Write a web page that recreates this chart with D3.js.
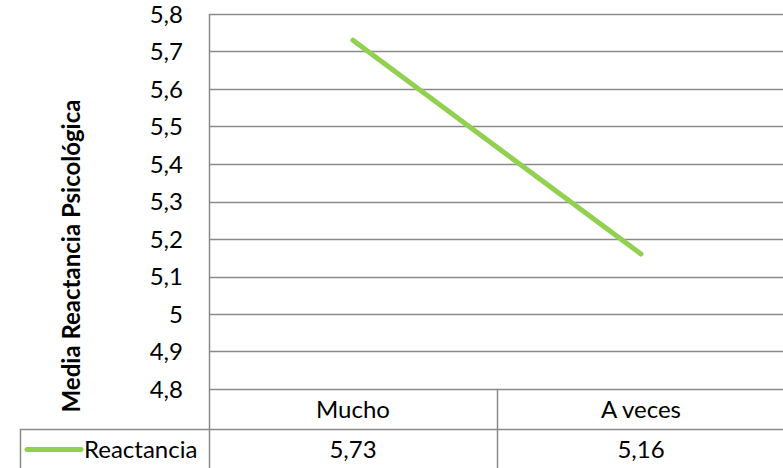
<!DOCTYPE html>
<html>
<head>
<meta charset="utf-8">
<script src="https://cdn.jsdelivr.net/npm/d3@7"></script>
<style>
  html, body { margin: 0; padding: 0; background: #fff; }
  svg { display: block; }
</style>
</head>
<body>
<div id="chart"></div>
<script>
'use strict'

// data
const categories = ["Mucho", "A veces"];
const seriesName = "Reactancia";
const values = [5.73, 5.16];
const valueLabels = ["5,73", "5,16"];
const yTicks = [4.8, 4.9, 5.0, 5.1, 5.2, 5.3, 5.4, 5.5, 5.6, 5.7, 5.8];

const svgWidth = 783, svgHeight = 468;
const font_family = 'Lato, "Open Sans", sans-serif';
const gridColor = '#8a8a8a';
const lineColor = '#92D050';
const fontSize = '24px';

const plot = { left: 209, right: 785, top: 14, bottom: 389 };
const rowH = 40; // table row height

const svg = d3.select('#chart')
    .append('svg')
    .attr('width', svgWidth)
    .attr('height', svgHeight);

// scales
const x = d3.scaleBand().domain(categories).range([plot.left, plot.right]);
const y = d3.scaleLinear().domain([4.8, 5.8]).range([plot.bottom, plot.top]);

// gridlines
svg.append('g')
    .selectAll('line')
    .data(yTicks)
    .join('line')
    .attr('x1', plot.left)
    .attr('x2', plot.right)
    .attr('y1', d => Math.round(y(d)) + 0.5)
    .attr('y2', d => Math.round(y(d)) + 0.5)
    .attr('stroke', gridColor)
    .attr('stroke-width', 1.5);

// tick labels
svg.append('g')
    .selectAll('text')
    .data(yTicks)
    .join('text')
    .attr('x', 183)
    .attr('y', d => y(d))
    .attr('dy', '0.36em')
    .attr('text-anchor', 'end')
    .style('font-family', font_family)
    .style('font-size', fontSize)
    .attr('fill', '#000')
    .text(d => d3.format('.1f')(d).replace('.', ',').replace(',0', ''));

// y-axis title
svg.append('text')
    .attr('transform', `translate(80,256) rotate(-90)`)
    .attr('text-anchor', 'middle')
    .style('font-family', font_family)
    .style('font-weight', '700')
    .style('font-size', '24px')
    .attr('fill', '#000')
    .text('Media Reactancia Psicológica');

// vertical axis line and table lines
const tableBottom = plot.bottom + 2 * rowH;
svg.append('line')
    .attr('x1', plot.left + 0.5).attr('x2', plot.left + 0.5)
    .attr('y1', plot.top).attr('y2', tableBottom + 10)
    .attr('stroke', gridColor).attr('stroke-width', 1.5);

svg.append('g')
    .selectAll('line')
    .data(categories.slice(1))
    .join('line')
    .attr('x1', d => Math.round(x(d)) + 0.5)
    .attr('x2', d => Math.round(x(d)) + 0.5)
    .attr('y1', plot.bottom)
    .attr('y2', tableBottom + 10)
    .attr('stroke', gridColor).attr('stroke-width', 1.5);

svg.append('line')
    .attr('x1', 20).attr('x2', plot.right)
    .attr('y1', plot.bottom + rowH + 0.5).attr('y2', plot.bottom + rowH + 0.5)
    .attr('stroke', gridColor).attr('stroke-width', 1.5);

svg.append('line')
    .attr('x1', 20.5).attr('x2', 20.5)
    .attr('y1', plot.bottom + rowH).attr('y2', tableBottom + 10)
    .attr('stroke', gridColor).attr('stroke-width', 1.5);

// category labels
svg.append('g')
    .selectAll('text')
    .data(categories)
    .join('text')
    .attr('x', d => x(d) + x.bandwidth() / 2)
    .attr('y', plot.bottom + rowH / 2)
    .attr('dy', '0.36em')
    .attr('text-anchor', 'middle')
    .style('font-family', font_family)
    .style('font-size', fontSize)
    .text(d => d);

// value labels
svg.append('g')
    .selectAll('text')
    .data(categories)
    .join('text')
    .attr('x', d => x(d) + x.bandwidth() / 2)
    .attr('y', plot.bottom + rowH * 1.5)
    .attr('dy', '0.36em')
    .attr('text-anchor', 'middle')
    .style('font-family', font_family)
    .style('font-size', fontSize)
    .text((d, i) => valueLabels[i]);

// legend key
svg.append('line')
    .attr('x1', 27).attr('x2', 81)
    .attr('y1', plot.bottom + rowH * 1.5 + 0.5).attr('y2', plot.bottom + rowH * 1.5 + 0.5)
    .attr('stroke', lineColor).attr('stroke-width', 5)
    .attr('stroke-linecap', 'round');

svg.append('text')
    .attr('x', 84)
    .attr('y', plot.bottom + rowH * 1.5)
    .attr('dy', '0.36em')
    .style('font-family', font_family)
    .style('font-size', fontSize)
    .text(seriesName);

// series line
const line = d3.line()
    .x((d, i) => x(categories[i]) + x.bandwidth() / 2)
    .y(d => y(d));

svg.append('path')
    .datum(values)
    .attr('d', line)
    .attr('fill', 'none')
    .attr('stroke', lineColor)
    .attr('stroke-width', 5)
    .attr('stroke-linecap', 'round');
</script>
</body>
</html>
